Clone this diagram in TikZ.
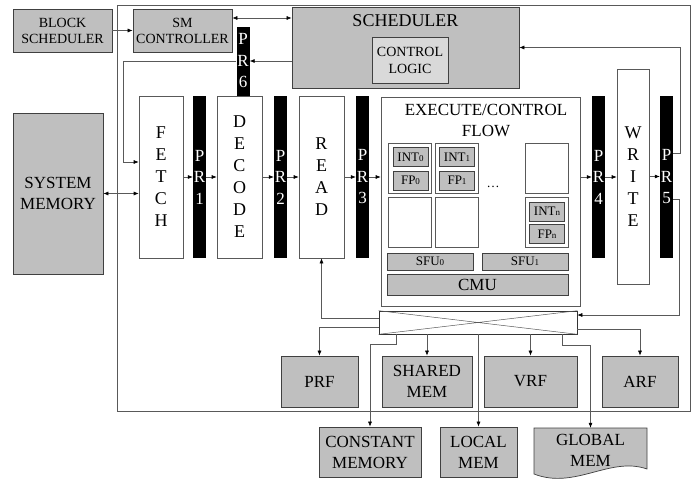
\documentclass[tikz,border=0pt]{standalone}
\usepackage{fontspec}
\setmainfont{Liberation Serif}
\usetikzlibrary{arrows.meta}
\definecolor{boxgray}{HTML}{BFBFBF}
\definecolor{logicgray}{HTML}{D9D9D9}
\definecolor{linegray}{HTML}{595959}
\newcommand{\digsub}[1]{{\fontsize{9}{9}\selectfont #1}}

\begin{document}
\begin{tikzpicture}[x=1pt,y=-1pt,
    >={Latex[length=5pt,width=4pt,color=black]},
    membox/.style={draw=black!75,fill=boxgray,inner sep=1pt,align=center,
      line width=.7pt,font=\fontsize{17}{21}\selectfont},
    smallbox/.style={membox,font=\fontsize{14}{16}\selectfont},
    alu/.style={draw=black!75,fill=boxgray,inner sep=0pt,line width=.6pt,
      minimum width=35pt,minimum height=19pt,font=\fontsize{13}{13}\selectfont},
    cell/.style={draw=linegray,fill=white,minimum width=43pt,minimum height=50pt,
      inner sep=0pt,line width=.6pt},
    stage/.style={draw=linegray,fill=white,inner sep=0pt,minimum height=162pt,
      line width=.6pt,align=center,font=\fontsize{18}{22}\selectfont},
    preg/.style={fill=black,text=white,inner sep=0pt,minimum width=13pt,
      minimum height=162pt,align=center,font=\fontsize{17}{21.5}\selectfont},
    conn/.style={draw=linegray,line width=.6pt,->}
  ]
  \useasboundingbox (0,0) rectangle (697,479);
  \draw[linegray,line width=.7pt] (117,5) rectangle (690,411);

  \node[smallbox,minimum width=99pt,minimum height=43pt] (bsched) at (62.5,30.5) {BLOCK\\SCHEDULER};
  \node[smallbox,minimum width=99pt,minimum height=43pt] (smctrl) at (182.5,30.5) {SM\\CONTROLLER};
  \node[membox,minimum width=227pt,minimum height=81pt] (sched) at (405.5,47.5) {};
  \node[font=\fontsize{18}{18}\selectfont] (schedtitle) at (405.5,21) {SCHEDULER};
  \node[smallbox,fill=logicgray,minimum width=76pt,minimum height=46pt,
    font=\fontsize{14}{17}\selectfont] (logic) at (410,60) {CONTROL\\LOGIC};
  \node[membox,minimum width=90pt,minimum height=161pt] (sysmem) at (58,193.5) {SYSTEM\\MEMORY};

  \node[preg,minimum height=69pt] (pr6) at (243,61) {P\\R\\6};
  \node[stage,minimum width=44pt] (fetch) at (161,177) {F\\E\\T\\C\\H};
  \node[preg] (pr1) at (199.5,177) {P\\R\\1};
  \node[stage,minimum width=45pt] (decode) at (239.5,177) {D\\E\\C\\O\\D\\E};
  \node[preg] (pr2) at (280.5,177) {P\\R\\2};
  \node[stage,minimum width=45pt] (read) at (321.5,177) {R\\E\\A\\D};
  \node[preg] (pr3) at (362.5,177) {P\\R\\3};
  \node[draw=linegray,fill=white,line width=.6pt,inner sep=0pt,
    minimum width=199pt,minimum height=209pt] (exec) at (480.5,201.5) {};
  \node[preg] (pr4) at (598.5,177) {P\\R\\4};
  \node[stage,minimum width=32pt,minimum height=215pt] (write) at (633,176.5) {W\\R\\I\\T\\E};
  \node[preg] (pr5) at (666.5,177) {P\\R\\5};

  \node[align=center,font=\fontsize{17}{21}\selectfont] (exectitle) at (486,120.5) {EXECUTE/CONTROL\\FLOW};
  \foreach \name/\x/\y in {c1/409.5/168,c2/456.5/168,c3/547/168,c4/409.5/222,c5/456.5/222,c6/547/222}
    \node[cell] (\name) at (\x,\y) {};
  \node[alu] (int0) at (410.5,157) {INT\digsub{0}};
  \node[alu] (fp0) at (410.5,180.5) {FP\digsub{0}};
  \node[alu] (int1) at (457,157) {INT\digsub{1}};
  \node[alu] (fp1) at (457,180.5) {FP\digsub{1}};
  \node[alu] (intn) at (547,211.5) {INT\digsub{n}};
  \node[alu] (fpn) at (547,234) {FP\digsub{n}};
  \node[font=\fontsize{13}{13}\selectfont] (dots) at (493,187) {\dots};
  \node[alu,minimum width=86pt,minimum height=17pt] (sfu0) at (430,261.5) {SFU\digsub{0}};
  \node[alu,minimum width=86pt,minimum height=17pt] (sfu1) at (525,261.5) {SFU\digsub{1}};
  \node[membox,inner sep=0pt,minimum width=181pt,minimum height=21pt] (cmu) at (477.5,284.5) {CMU};

  \node[draw=black!80,fill=white,line width=.6pt,inner sep=0pt,
    minimum width=198pt,minimum height=23pt] (xbar) at (478,322.5) {};
  \draw[linegray,line width=.5pt] (xbar.north west) -- (xbar.south east)
    (xbar.south west) -- (xbar.north east);

  \node[membox,minimum width=77pt,minimum height=51pt] (prf) at (319.5,381.5) {PRF};
  \node[membox,minimum width=90pt,minimum height=51pt] (shared) at (427,381.5) {SHARED\\MEM};
  \node[membox,minimum width=93pt,minimum height=51pt] (vrf) at (530.5,381.5) {VRF};
  \node[membox,minimum width=76pt,minimum height=51pt] (arf) at (640,381.5) {ARF};
  \node[membox,minimum width=102pt,minimum height=50pt] (const) at (370,452) {CONSTANT\\MEMORY};
  \node[membox,minimum width=77pt,minimum height=50pt] (local) at (478.5,452) {LOCAL\\MEM};
  \filldraw[fill=boxgray,draw=black!75,line width=.7pt] (534,428) -- (647,428) -- (647,469)
    .. controls (610,456) and (575,490) .. (534,474) -- cycle;
  \node[align=center,font=\fontsize{17}{21}\selectfont,minimum height=44pt] (glob) at (590.5,450) {GLOBAL\\MEM};

  \draw[conn] (bsched.east) -- (smctrl.west);
  \draw[conn,<->] ([yshift=12.5pt]smctrl.east) -- ([yshift=12.5pt]smctrl.east -| sched.west);
  \draw[conn] (pr6.east -| sched.west) -- (pr6.east);
  \draw[conn] (pr6.west) -- ++(-113,0) |- ([yshift=15pt]fetch.west);
  \draw[conn,<->] (sysmem.east) -- (sysmem.east -| fetch.west);
  \foreach \a/\b in {fetch/pr1,pr1/decode,decode/pr2,pr2/read,read/pr3,pr3/exec,pr4/write,write/pr5}
    \draw[conn] (\a.east) -- (\a.east -| \b.west);
  \draw[conn] (pr4.west -| exec.east) -- (pr4.west);
  \draw[conn] ([yshift=24pt]pr5.east) -- ++(7,0) |- (sched.east);
  \draw[conn] ([yshift=-22pt]pr5.east) -- ++(6,0) |- ([yshift=7.5pt]xbar.east);
  \draw[conn] ([yshift=4.5pt]xbar.west) -| (read.south);
  \draw[conn] ([yshift=-4.5pt]xbar.west) -| (prf.north);
  \draw[conn] ([xshift=18pt]xbar.south west) -- ++(0,10) -| (const.north);
  \foreach \b in {shared,local,vrf}
    \draw[conn] (xbar.south -| \b.north) -- (\b.north);
  \draw[conn] ([xshift=-15pt]xbar.south east) -- ++(0,11) -| (glob.north);
  \draw[conn] ([yshift=-6.5pt]xbar.east) -| (arf.north);
\end{tikzpicture}
\end{document}
